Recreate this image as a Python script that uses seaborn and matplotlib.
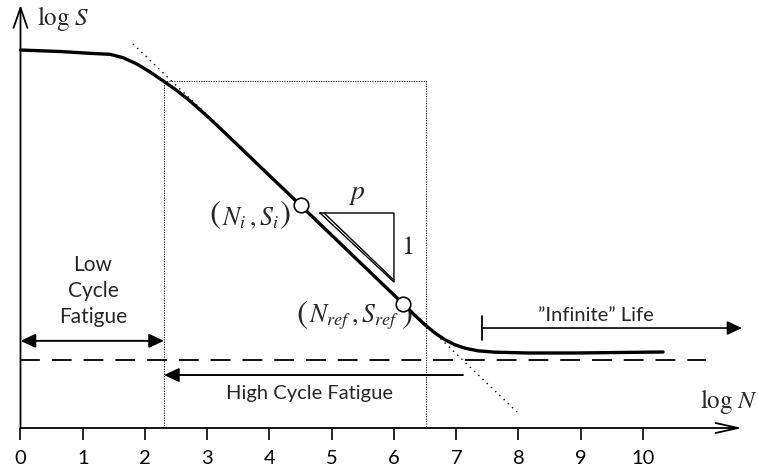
import matplotlib
matplotlib.use("Agg")
import matplotlib.pyplot as plt
import seaborn as sns
import pandas as pd

# ---- data (log N, log S) ----
curve_logN = [0.0, 0.635, 1.116, 1.438, 1.647, 1.871, 2.080, 2.289, 2.514, 2.723,
              2.996, 3.253, 3.526, 3.799, 4.506, 5.293, 6.128, 6.337, 6.498, 6.659,
              6.819, 6.980, 7.141, 7.349, 7.622, 8.153, 8.908, 10.322]
curve_logS = [6.072, 6.048, 6.019, 6.003, 5.949, 5.847, 5.719, 5.578, 5.420, 5.253,
              5.012, 4.771, 4.509, 4.247, 3.570, 2.814, 2.013, 1.807, 1.658, 1.526,
              1.417, 1.337, 1.282, 1.240, 1.218, 1.205, 1.205, 1.221]
point_logN = [4.506, 6.137]
point_logS = [3.575, 2.000]
tangent_logN = [1.807, 7.976]
tangent_logS = [6.169, 0.257]
endurance_logS = 1.100
endurance_span = [0.0, 11.01]
hcf_box_logN = [2.305, 6.514]
hcf_box_top = 5.58
infinite_start = 7.414
tick_values = list(range(0, 11))
tick_labels = [str(v) for v in tick_values]

sns.set_theme(style="white")
plt.rcParams["font.family"] = ["Lato", "DejaVu Sans"]
plt.rcParams["mathtext.fontset"] = "stix"

fig = plt.figure(figsize=(7.58, 4.70), dpi=100)
ax = fig.add_axes([0, 0, 1, 1])
ax.set_xlim(-20.5 / 62.25, (758 - 20.5) / 62.25)
ax.set_ylim((428 - 470) / 62.25, 428 / 62.25)
ax.set_facecolor("white")

df = pd.DataFrame({"logN": curve_logN, "logS": curve_logS})
sns.lineplot(data=df, x="logN", y="logS", sort=False, estimator=None,
             color="black", lw=2.4, ax=ax, zorder=4)

# tangent (dotted)
ax.plot(tangent_logN, tangent_logS, color="black", lw=1.0, ls=(0, (1, 3.2)), zorder=3)

# endurance limit (dashed)
ax.plot(endurance_span, [endurance_logS] * 2, color="black", lw=1.3,
        ls=(0, (11, 6.6)), zorder=2)

# HCF dotted box
bx0, bx1 = hcf_box_logN
ax.plot([bx0, bx0, bx1, bx1], [0, hcf_box_top, hcf_box_top, 0],
        color="black", lw=0.8, ls=(0, (1, 1.2)), zorder=2)

# points
pts = pd.DataFrame({"logN": point_logN, "logS": point_logS})
sns.scatterplot(data=pts, x="logN", y="logS", s=110, facecolor="white",
                edgecolor="black", linewidth=1.2, ax=ax, zorder=6)

# axes with arrows
ax.annotate("", xy=(11.59, 0), xytext=(0, 0),
            arrowprops=dict(arrowstyle="->,head_length=1.6,head_width=0.36",
                            lw=1.3, color="black", mutation_scale=10,
                            shrinkA=0, shrinkB=0))
ax.annotate("", xy=(0, 6.795), xytext=(0, 0),
            arrowprops=dict(arrowstyle="->,head_length=1.45,head_width=0.5",
                            lw=1.3, color="black", mutation_scale=10,
                            shrinkA=0, shrinkB=0))
for s in ax.spines.values():
    s.set_visible(False)
ax.spines["bottom"].set_position(("data", 0))
ax.set_xticks(tick_values)
ax.set_xticklabels(tick_labels, fontsize=14.5)
ax.set_yticks([])
ax.tick_params(axis="x", direction="out", length=8.6, width=1.2, pad=7,
               colors="black", bottom=True)
ax.set_xlabel("")
ax.set_ylabel("")

ax.text(0.265, 6.586, r"$\log\, S$", fontsize=18, ha="left", va="center")
ax.text(10.92, 0.418, r"$\log\, N$", fontsize=18, ha="left", va="center")

# Low cycle fatigue
ax.annotate("", xy=(0, 1.40), xytext=(bx0, 1.40),
            arrowprops=dict(arrowstyle="<|-|>,head_length=0.9,head_width=0.42",
                            lw=1.4, color="black", mutation_scale=10,
                            shrinkA=0, shrinkB=0))
ax.text(1.165, 2.20, "Low\nCycle\nFatigue", fontsize=15, ha="center",
        va="center", linespacing=1.35)

# High cycle fatigue
ax.annotate("", xy=(bx0, 0.851), xytext=(7.108, 0.851),
            arrowprops=dict(arrowstyle="-|>,head_length=0.9,head_width=0.42",
                            lw=1.4, color="black", mutation_scale=10,
                            shrinkA=0, shrinkB=0))
ax.text(4.635, 0.562, "High Cycle Fatigue", fontsize=14.5, ha="center", va="center")

# Infinite life
ax.plot([infinite_start, infinite_start], [1.414, 1.799], color="black", lw=1.3)
ax.annotate("", xy=(11.59, 1.606), xytext=(infinite_start, 1.606),
            arrowprops=dict(arrowstyle="-|>,head_length=0.9,head_width=0.42",
                            lw=1.2, color="black", mutation_scale=10,
                            shrinkA=0, shrinkB=0))
ax.text(9.245, 1.81, "\u201dInfinite\u201d Life", fontsize=14.5, ha="center", va="center")

# slope triangle
ax.plot([4.811, 5.999, 5.999, 4.811], [3.454, 3.454, 2.345, 3.454],
        color="black", lw=1.0)
ax.plot([4.876, 5.999], [3.454, 2.375], color="black", lw=1.0)
ax.text(5.406, 3.76, r"$p$", fontsize=20, ha="center", va="center")
ax.text(6.209, 2.908, r"$1$", fontsize=19, ha="center", va="center")

# point labels (large parentheses drawn separately)
PFS = 24
ax.text(3.687, 3.36, r"$N_i\,,S_i$", fontsize=18.5, ha="center", va="center")
ax.text(3.12, 3.42, r"$($", fontsize=PFS, ha="center", va="center")
ax.text(4.25, 3.42, r"$)$", fontsize=PFS, ha="center", va="center")
ax.text(5.357, 1.78, r"$N_{ref}\,,S_{ref}$", fontsize=18.5, ha="center", va="center")
ax.text(4.52, 1.82, r"$($", fontsize=PFS, ha="center", va="center")
ax.text(6.21, 1.82, r"$)$", fontsize=PFS, ha="center", va="center")

fig.savefig("out.png", dpi=100, facecolor="white")
